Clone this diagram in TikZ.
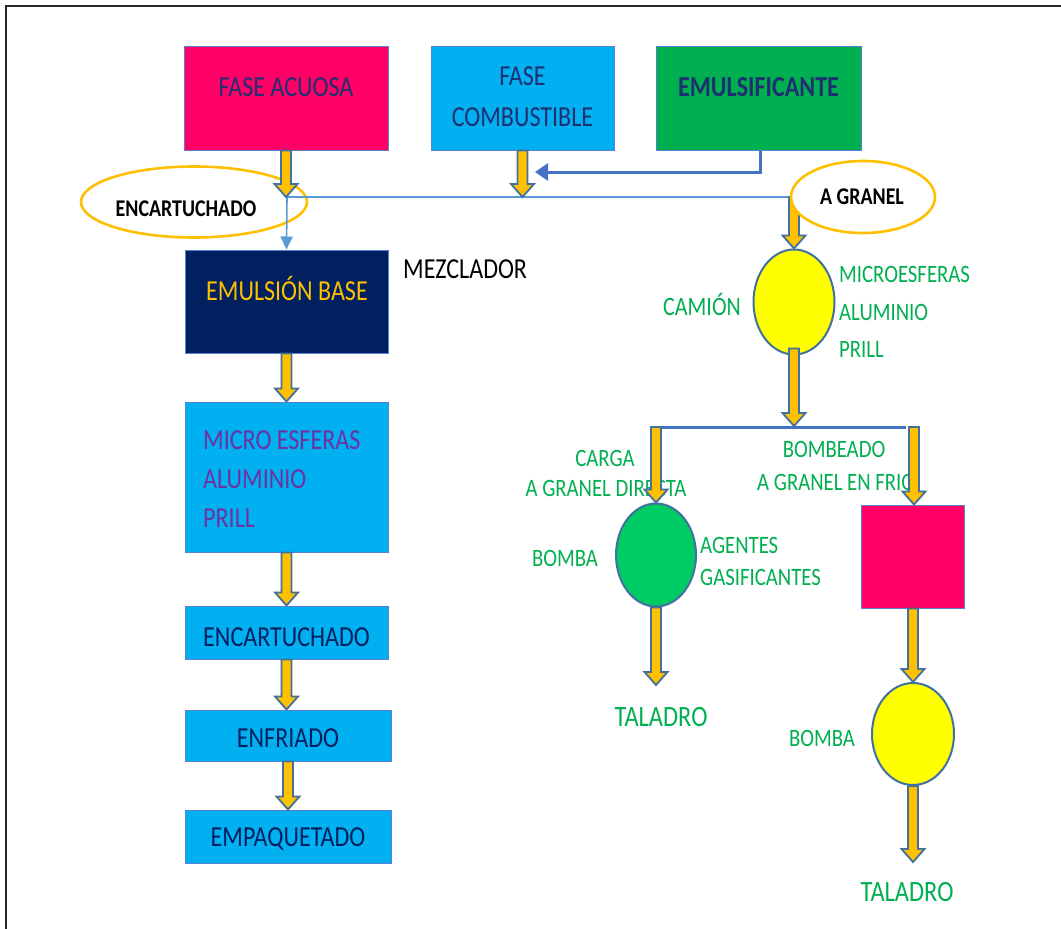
\documentclass[tikz,border=0pt]{standalone}
\usepackage{fontspec}
\setmainfont{Carlito}[FakeStretch=0.83]
\usetikzlibrary{calc,shapes.geometric,arrows.meta}

\definecolor{pinkc}{HTML}{FF0066}
\definecolor{cyanc}{HTML}{00B0F0}
\definecolor{greenc}{HTML}{00B050}
\definecolor{navyc}{HTML}{002060}
\definecolor{goldc}{HTML}{FFC000}
\definecolor{yellowc}{HTML}{FFFF00}
\definecolor{ballgreen}{HTML}{00CC66}
\definecolor{darktext}{HTML}{1F3070}
\definecolor{purplec}{HTML}{7030A0}
\definecolor{edgec}{HTML}{41719C}
\definecolor{linkblue}{HTML}{4472C4}
\definecolor{lightlink}{HTML}{5B9BD5}
\definecolor{boxedge}{HTML}{5B7FD0}

\newcommand\fsz[1]{\fontsize{#1}{#1}\selectfont}

% thick yellow downward arrow with outline, from #1 to the tip #2
\newcommand\fatarrow[2]{%
  \filldraw[fatarrowstyle] let \p1=(#1), \p2=(#2) in
    ({\x1-5pt},{\y1}) -- ({\x1-5pt},{\y2+13pt}) -- ({\x1-11.5pt},{\y2+13pt})
    -- ({\x1},{\y2}) -- ({\x1+11.5pt},{\y2+13pt}) -- ({\x1+5pt},{\y2+13pt})
    -- ({\x1+5pt},{\y1}) -- cycle;}

\tikzset{
  fatarrowstyle/.style={fill=goldc, draw=edgec, line width=1.8pt, line join=miter},
  box/.style={rectangle, draw=boxedge, line width=1pt, inner sep=0pt},
  boxtext/.style={inner sep=0pt, font=\fsz{29}},
  ball/.style={ellipse, draw=edgec, line width=2pt, inner sep=0pt},
  ring/.style={ellipse, draw=goldc, line width=2.6pt, inner sep=0pt},
  ringtext/.style={inner sep=0pt, font=\bfseries\fsz{24}},
  greentxt/.style={text=greenc, font=\fsz{25}, inner sep=0pt},
}

\begin{document}
\begin{tikzpicture}[x=1pt,y=-1pt]
\useasboundingbox (0,0) rectangle (1061,929);
\fill[white] (0,0) rectangle (1061,929);

% page frame
\draw[line width=2.4pt, black!85] (1061,6) -- (6,6) -- (6,929);

% top row
\node[box, fill=pinkc, minimum width=204, minimum height=104] (acuosa) at (286,98) {};
\node[boxtext, text=darktext] (acuosat) at (286,87) {FASE ACUOSA};
\node[box, fill=cyanc, minimum width=183, minimum height=104] (comb) at (522.5,98) {};
\node[boxtext, text=darktext, align=center, font=\fontsize{29}{41}\selectfont] (combt) at (522.5,97) {FASE\\COMBUSTIBLE};
\node[box, fill=greenc, minimum width=205, minimum height=104] (emul) at (758.5,98) {};
\node[boxtext, text=darktext, font=\bfseries\fsz{29}] (emult) at (758.5,87) {EMULSIFICANTE};

% left column
\node[box, fill=navyc, minimum width=203, minimum height=103] (base) at (286.5,301.5) {};
\node[boxtext, text=goldc] (baset) at (287,288) {EMULSIÓN BASE};
\node[boxtext, anchor=west] (mezc) at (403,269) {MEZCLADOR};

\node[box, fill=cyanc, minimum width=203, minimum height=150] (micro) at (286.5,477) {};
\node[boxtext, anchor=west, text=purplec, align=left,
      font=\fontsize{29}{39}\selectfont] (microt) at (203,479) {MICRO ESFERAS\\ALUMINIO\\PRILL};

\node[box, fill=cyanc, minimum width=203, minimum height=53] (encart) at (286.5,632.5) {};
\node[boxtext, text=navyc] (encartt) at (286.5,637) {ENCARTUCHADO};
\node[box, fill=cyanc, minimum width=206, minimum height=51] (enfr) at (288,735.5) {};
\node[boxtext, text=navyc] (enfrt) at (288,738) {ENFRIADO};
\node[box, fill=cyanc, minimum width=206, minimum height=53] (empaq) at (288,836.5) {};
\node[boxtext, text=navyc] (empaqt) at (288,839) {EMPAQUETADO};

% right side: bulk route
\node[ball, fill=yellowc, minimum width=81, minimum height=105] (camion) at (794,302) {};
\node[greentxt, font=\fsz{26.5}] (camiont) at (702,305) {CAMIÓN};
\node[greentxt, anchor=west, align=left, font=\fontsize{25}{37.5}\selectfont] (camionr) at (839,312) {MICROESFERAS\\ALUMINIO\\PRILL};

\node[ball, fill=ballgreen, minimum width=80, minimum height=103] (gball) at (656,555) {};
\node[greentxt] (bomba1) at (565,558) {BOMBA};
\node[greentxt, anchor=west, align=left, font=\fontsize{25}{32}\selectfont] (agentes) at (700,561) {AGENTES\\GASIFICANTES};
\node[greentxt] (carga) at (605,458) {CARGA};
\node[greentxt] (cargab) at (606,488) {A GRANEL DIRECTA};
\node[greentxt] (bomb) at (834,449) {BOMBEADO};
\node[greentxt, anchor=west] (bombb) at (757,482) {A GRANEL EN FRIO};
\node[greentxt, font=\fsz{29.5}] (tal1) at (661,717) {TALADRO};

\node[rectangle, draw=boxedge, line width=1pt, fill=pinkc, minimum width=103, minimum height=103] (sq) at (913,556.5) {};
\node[ball, fill=yellowc, minimum width=82, minimum height=102] (yball) at (913,734) {};
\node[greentxt] (bomba2) at (822,738) {BOMBA};
\node[greentxt, font=\fsz{29.5}] (tal2) at (907,892) {TALADRO};

% ENCARTUCHADO selector ring
\node[ring, minimum width=226, minimum height=71] (ringl) at (194,202) {};
\node[ringtext] (ringlt) at (186,209) {ENCARTUCHADO};

% junction points
\coordinate (jl) at (287,197);
\coordinate (jc) at (522,197);
\coordinate (jr) at (794,197);
\coordinate (emdown) at (760,172);
\coordinate (emtip) at (535,172);
\coordinate (split) at (794,426);
\coordinate (sl) at (656,427);
\coordinate (sr) at (914,427);
\coordinate (tip1) at (656,685);
\coordinate (tip2) at (913,862);

% collecting line and feeds
\draw[lightlink, line width=1.6pt] (jl) -- (jr);
\draw[lightlink, line width=1.6pt, -{Triangle[width=12pt,length=13pt]}] (jl) -- (base.north);
\draw[linkblue, line width=3pt, -{Triangle[width=17pt,length=13pt]}]
  (emul.south -| emdown) -- (emdown) -- (emtip);

% distribution line
\draw[linkblue, line width=3pt] ($(sl)+(-4,0)$) -- ($(sr)+(-8,0)$);

% thick arrows
\fatarrow{acuosa.south}{jl}
\fatarrow{comb.south}{jc}
\fatarrow{jr}{camion.north}
\fatarrow{base.south}{micro.north}
\fatarrow{micro.south}{encart.north}
\fatarrow{encart.south}{enfr.north}
\fatarrow{enfr.south}{empaq.north}
\fatarrow{$(camion.south)+(0,-7)$}{split}
\fatarrow{sl}{gball.north}
\fatarrow{sr}{sq.north}
\fatarrow{gball.south}{tip1}
\fatarrow{sq.south}{yball.north}
\fatarrow{yball.south}{tip2}

% A GRANEL selector ring
\node[ring, fill=white, minimum width=144, minimum height=72] (ringr) at (863,197) {};
\node[ringtext] (ringrt) at (862,197) {A GRANEL};
\end{tikzpicture}
\end{document}
